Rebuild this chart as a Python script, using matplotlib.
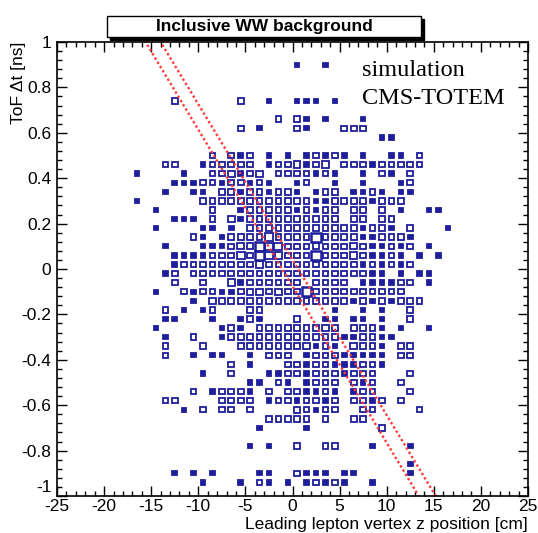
import numpy as np
import matplotlib.pyplot as plt
from matplotlib.patches import Rectangle
from matplotlib.ticker import MultipleLocator

plt.rcParams['font.family'] = ['Liberation Sans', 'DejaVu Sans']
plt.rcParams['axes.unicode_minus'] = False

# 2D histogram: 50 bins of 1 cm in z, 50 bins of 0.04 ns in dt (top row = dt near +1)
z_edges = np.linspace(-25, 25, 51)
t_edges = np.linspace(1, -1, 51)

# counts per row, one char per z bin ('.' = empty), '|' only for readability
counts_rows = [
    "..........|..........|..........|..........|..........",
    "..........|..........|..........|..........|..........",
    "..........|..........|.....1..1.|..........|..........",
    "..........|..........|..........|..........|..........",
    "..........|..........|..........|..........|..........",
    "..........|..........|..........|..........|..........",
    "..........|..2......2|..1..111.1|..........|..........",
    "..........|..........|..........|..........|..........",
    "..........|..........|...2.21.1.|..1.......|..........",
    "..........|.........2|.1...21...|222.......|..........",
    "..........|..........|..........|....11....|..........",
    "..........|..........|..........|..........|..........",
    "..........|......2.21|2.1.1.1212|1.1..11.2.|..........",
    "..........|.22..12222|2.1223123.|222122222.|..........",
    "........1.|...1..2231|23.2222121|..1.21.2..|..........",
    "..........|..11122122|121..12..1|..1...12..|..........",
    "..........|.1..11.221|221221.123|.1121.11..|..........",
    "........1.|.....22222|2222222112|2221222...|..........",
    "..........|1.....2..1|2222212122|.22.2.1..1|1.........",
    "..........|..111.2.31|2222322222|.22.22....|..........",
    "..........|1....11.1.|3222222222|221221.2..|.1........",
    "..........|....21.122|2252222822|22112221..|..........",
    "..........|.1...11123|3855222322|23211212.1|..........",
    "..........|..11112225|2853222822|2321121.1.|1.........",
    "..........|..12222222|2322222222|22121212..|..........",
    "..........|.12.222222|2222222222|22211.1.11|..........",
    "..........|..2..2..31|222222.222|2.111122.1|..........",
    "..........|1..2122112|3323228222|2222222...|..........",
    "..........|....1.3222|2222222222|212121222.|..........",
    "..........|.2.1.12...|22.......1|..1.1..2..|..........",
    "..........|.11...1..1|21...3..11|.11.1..2..|..........",
    "..........|1......121|.232222232|.2221.1..1|..........",
    "..........|.1..2..122|3222222223|112211....|..........",
    "..........|.2...2...2|2222223121|.3221.22..|..........",
    "..........|.2..1.11..|1.222.1222|11111.22..|..........",
    "..........|........2.|1...221221|11221.....|..........",
    "..........|.....1..2.|..11221222|1222...2..|..........",
    "..........|..........|11.21.1222|.212..2...|..........",
    "..........|....2.1222|1.2.221121|.122...2..|..........",
    "..........|.22....222|2.12212212|.2212.2...|..........",
    "..........|...1.2.22.|2....32122|..22....2.|..........",
    "..........|..........|..22222.2.|.22.......|..........",
    "..........|..........|.1....1...|....2.....|..........",
    "..........|..........|..........|..........|..........",
    "..........|..........|1.1..2..22|...1...1..|..........",
    "..........|..........|..........|..........|..........",
    "..........|..........|..........|.......1..|..........",
    "..........|..1.1.1...|.11..2111.|11.....1..|..........",
    "..........|.....1...1|.21.1.1212|1..1......|..........",
    "..........|..........|..........|..........|..........",
]

# dotted red band: z = slope * dt + offset
band_t = [1.1, -1.1]
band_slope = [-14.5, -14.6]
band_offset = [-1.1, 0.6]

counts = np.array([[0 if ch == '.' else int(ch) for ch in row.replace('|', '')]
                   for row in counts_rows])

fig = plt.figure(figsize=(5.38, 5.33), dpi=100)
ax = fig.add_axes([57 / 538, 37 / 533, 471 / 538, 454 / 533])

blue = '#1e1e9c'
dz = z_edges[1] - z_edges[0]
dt = t_edges[0] - t_edges[1]
cmax = counts.max()
for j, k in zip(*np.nonzero(counts)):
    c = counts[j, k]
    zc = 0.5 * (z_edges[k] + z_edges[k + 1])
    tc = 0.5 * (t_edges[j] + t_edges[j + 1])
    f = 0.2 + 0.8 * np.sqrt(c / cmax)
    w, h = f * dz, f * dt
    ax.add_patch(Rectangle((zc - w / 2, tc - h / 2), w, h,
                           fill=(c == 1), facecolor=blue, edgecolor=blue,
                           lw=1.8 if c == cmax else 1.3))

tt = np.array(band_t)
for s, o in zip(band_slope, band_offset):
    ax.plot(s * tt + o, tt, color='#ff3a3a', lw=1.7, ls=(0, (1, 1.1)))


def tfmt(v, pos):
    if abs(v) < 1e-9:
        return '0'
    if abs(v + 1) < 1e-9:
        return ''  # drawn separately, nudged up
    return f'{v:.1f}'.rstrip('0').rstrip('.')


ax.set_xlim(-25, 25)
ax.set_ylim(-1, 1)
ax.xaxis.set_major_locator(MultipleLocator(5))
ax.xaxis.set_minor_locator(MultipleLocator(1))
ax.yaxis.set_major_locator(MultipleLocator(0.2))
ax.yaxis.set_minor_locator(MultipleLocator(0.04))
ax.yaxis.set_major_formatter(plt.FuncFormatter(tfmt))
ax.tick_params(which='both', direction='in', top=True, right=True, width=1.0, labelsize=12.5)
ax.tick_params(which='major', length=7)
ax.tick_params(which='minor', length=3.5)
ax.tick_params(axis='y', pad=4)
ax.tick_params(axis='x', pad=2)
for sp in ax.spines.values():
    sp.set_linewidth(1.2)

ax.annotate('-1', xy=(0, -1), xycoords=('axes fraction', 'data'),
            xytext=(-4, 6), textcoords='offset points',
            ha='right', va='center', fontsize=12.5)

ax.text(7.4, 0.875, 'simulation', family='Liberation Serif', fontsize=17.5, va='center')
ax.text(7.4, 0.75, 'CMS-TOTEM', family='Liberation Serif', fontsize=17.5, va='center')

fig.text(528 / 538, 1 - 524 / 533, 'Leading lepton vertex z position [cm]',
         ha='right', va='center', fontsize=12.5)
fig.text(19 / 538, 1 - 42 / 533, 'ToF \u0394t [ns]', rotation=90,
         ha='center', va='top', fontsize=12.5)

# title box with shadow
bx0, by0, bx1, by1 = 107 / 538, 1 - 37 / 533, 421 / 538, 1 - 16 / 533
fig.patches.append(Rectangle((bx0 + 3 / 538, by0 - 3 / 533), bx1 - bx0, by1 - by0,
                             transform=fig.transFigure, facecolor='black', edgecolor='black'))
fig.patches.append(Rectangle((bx0, by0), bx1 - bx0, by1 - by0, transform=fig.transFigure,
                             facecolor='white', edgecolor='black', lw=1.0))
fig.text((bx0 + bx1) / 2, (by0 + by1) / 2, 'Inclusive WW background',
         ha='center', va='center', fontsize=12.5, fontweight='bold')

fig.savefig('out.png', dpi=100)
